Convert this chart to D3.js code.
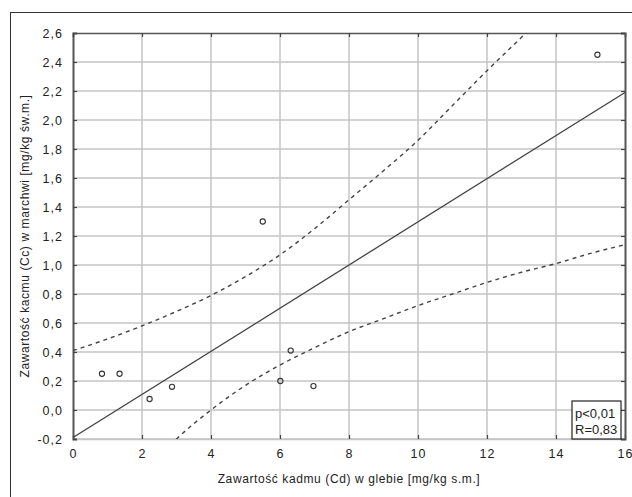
<!DOCTYPE html>
<html>
<head>
<meta charset="utf-8">
<script src="https://cdn.jsdelivr.net/npm/d3@7"></script>
<style>
  body { margin: 0; background: #fff; }
  svg { display: block; }
  text { font-family: Arial, "Liberation Sans", sans-serif; fill: #222; }
</style>
</head>
<body>
<svg id="chart" width="632" height="497"></svg>
<script>
// scatter points (soil Cd vs carrot Cd)
const soilCd = [0.84, 1.35, 2.22, 2.87, 5.5, 6.01, 6.31, 6.97, 15.2];
const carrotCd = [0.25, 0.25, 0.076, 0.16, 1.3, 0.2, 0.41, 0.165, 2.45];

// fitted line end points
const fitX = [0, 16];
const fitY = [-0.19, 2.19];

// confidence band
const upperX = [0, 1, 2, 3, 4, 5, 6, 7, 8, 9, 10, 11, 12, 13, 14];
const upperY = [0.41, 0.49, 0.58, 0.68, 0.79, 0.92, 1.07, 1.25, 1.45, 1.65, 1.86, 2.1, 2.34, 2.57, 2.8];
const lowerX = [2.5, 3, 4, 5, 6, 7, 8, 9, 10, 11, 12, 13, 14, 15, 16];
const lowerY = [-0.32, -0.2, 0.0, 0.17, 0.31, 0.43, 0.54, 0.63, 0.72, 0.8, 0.88, 0.95, 1.01, 1.08, 1.14];

const xTicks = [0, 2, 4, 6, 8, 10, 12, 14, 16];
const yTicks = [-0.2, 0, 0.2, 0.4, 0.6, 0.8, 1.0, 1.2, 1.4, 1.6, 1.8, 2.0, 2.2, 2.4, 2.6];

const xLabel = "Zawartość kadmu (Cd) w glebie [mg/kg s.m.]";
const yLabel = "Zawartość kacmu (Cc) w marchwi [mg/kg św.m.]";
const statLines = ["p<0,01", "R=0,83"];

const MARGIN = { LEFT: 73, TOP: 33, RIGHT: 7, BOTTOM: 58 };
const W = 632, H = 497;
const ADJ_WIDTH = W - MARGIN.LEFT - MARGIN.RIGHT;
const ADJ_HEIGHT = H - MARGIN.TOP - MARGIN.BOTTOM;

const svg = d3.select("#chart");
const fmt = (v) => d3.format(".1f")(v).replace(".", ",").replace("−", "-");

// outer frame (only top and left show in the crop)
svg.append("rect")
  .attr("x", 10.5).attr("y", 12.5)
  .attr("width", W).attr("height", H)
  .attr("fill", "none").attr("stroke", "#333").attr("stroke-width", 1);

const x = d3.scaleLinear().domain([0, 16]).range([0, ADJ_WIDTH]);
const y = d3.scaleLinear().domain([-0.2, 2.6]).range([ADJ_HEIGHT, 0]);

const g = svg.append("g").attr("transform", `translate(${MARGIN.LEFT},${MARGIN.TOP})`);

g.append("defs").append("clipPath").attr("id", "plot-clip")
  .append("rect").attr("width", ADJ_WIDTH).attr("height", ADJ_HEIGHT);

// grid lines
g.append("g")
  .selectAll("line")
  .data(xTicks.slice(1, -1))
  .join("line")
  .attr("x1", (d) => x(d)).attr("x2", (d) => x(d))
  .attr("y1", 0).attr("y2", ADJ_HEIGHT)
  .attr("stroke", "#c4c4c4").attr("stroke-width", 1.5);

g.append("g")
  .selectAll("line")
  .data(yTicks.slice(0, -1))
  .join("line")
  .attr("x1", 0).attr("x2", ADJ_WIDTH)
  .attr("y1", (d) => y(d)).attr("y2", (d) => y(d))
  .attr("stroke", "#c4c4c4").attr("stroke-width", 1.5);

// axes: labels on left / bottom, inward ticks all round
const xAxis = g.append("g")
  .attr("transform", `translate(0,${ADJ_HEIGHT})`)
  .call(d3.axisBottom(x).tickValues(xTicks).tickSize(-4).tickPadding(10).tickFormat(d3.format("d")));
xAxis.select(".domain").attr("stroke", "#c4c4c4").attr("stroke-width", 1.5);

const yAxis = g.append("g")
  .call(d3.axisLeft(y).tickValues(yTicks).tickSize(-4).tickPadding(10).tickFormat(fmt));
yAxis.select(".domain").attr("stroke", "#555").attr("stroke-width", 2);

g.append("g")
  .call(d3.axisTop(x).tickValues(xTicks).tickSize(-4).tickFormat(""))
  .select(".domain").attr("stroke", "#555").attr("stroke-width", 1.5);

g.append("g")
  .attr("transform", `translate(${ADJ_WIDTH},0)`)
  .call(d3.axisRight(y).tickValues(yTicks).tickSize(-4).tickFormat(""))
  .select(".domain").attr("stroke", "#555").attr("stroke-width", 2);

g.selectAll(".tick line").attr("stroke", "#444").attr("stroke-width", 1.2);
g.selectAll(".tick text")
  .attr("font-size", 12.5)
  .style("letter-spacing", "1px")
  .attr("fill", "#222");

// regression line and confidence band
const plot = g.append("g").attr("clip-path", "url(#plot-clip)");
const line = d3.line().x((d) => x(d[0])).y((d) => y(d[1])).curve(d3.curveMonotoneX);

plot.append("path")
  .datum(d3.zip(fitX, fitY))
  .attr("d", line)
  .attr("fill", "none").attr("stroke", "#444").attr("stroke-width", 1.3);

[[upperX, upperY], [lowerX, lowerY]].forEach(([xs, ys]) => {
  plot.append("path")
    .datum(d3.zip(xs, ys))
    .attr("d", line)
    .attr("fill", "none").attr("stroke", "#444")
    .attr("stroke-width", 1.4).attr("stroke-dasharray", "4,4");
});

// points
g.append("g")
  .selectAll("circle")
  .data(d3.zip(soilCd, carrotCd))
  .join("circle")
  .attr("cx", (d) => x(d[0]))
  .attr("cy", (d) => y(d[1]))
  .attr("r", 2.6)
  .attr("fill", "none").attr("stroke", "#333").attr("stroke-width", 1.1);

// stats box
const box = g.append("g").attr("transform", `translate(${ADJ_WIDTH - 53},${ADJ_HEIGHT - 38})`);
box.append("rect")
  .attr("width", 49).attr("height", 38)
  .attr("fill", "#fff").attr("stroke", "#222").attr("stroke-width", 1.2);
box.selectAll("text")
  .data(statLines)
  .join("text")
  .attr("x", 3).attr("y", (d, i) => 17 + i * 16)
  .attr("font-size", 13)
  .text((d) => d);

// axis titles
svg.append("text")
  .attr("x", MARGIN.LEFT + ADJ_WIDTH / 2)
  .attr("y", 483)
  .attr("text-anchor", "middle")
  .attr("font-size", 12)
  .style("letter-spacing", "0.6px")
  .text(xLabel);

svg.append("text")
  .attr("transform", `translate(29,${MARGIN.TOP + ADJ_HEIGHT / 2}) rotate(-90)`)
  .attr("text-anchor", "middle")
  .attr("font-size", 12)
  .style("letter-spacing", "0.6px")
  .text(yLabel);
</script>
</body>
</html>
